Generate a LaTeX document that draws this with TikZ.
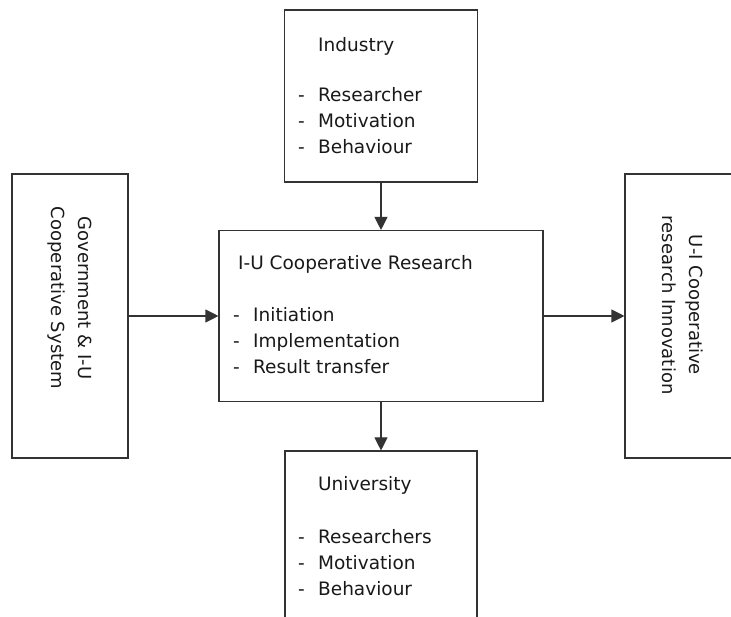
\documentclass[tikz,border=0pt]{standalone}
\usepackage{fontspec}
\setmainfont{DejaVu Sans}
\usetikzlibrary{arrows.meta}
\tikzset{
  box/.style={draw=black!80, line width=1.1pt, inner sep=0pt},
  txt/.style={anchor=base west, inner sep=0pt, text=black!90, font=\fontsize{18.5}{26}\selectfont},
  vtxt/.style={rotate=-90, align=center, inner sep=0pt, text=black!90, font=\fontsize{18}{27}\selectfont},
  arr/.style={-{Triangle[length=13pt,width=13pt]}, draw=black!80, line width=1.1pt}
}
\begin{document}
\begin{tikzpicture}[x=1pt, y=-1pt]
        \useasboundingbox (0,0) rectangle (731,617);
        \clip (0,0) rectangle (731,617);
        \fill[white] (0,0) rectangle (731,617);
        % boxes
        \node[box, minimum width=193pt, minimum height=172pt] (ind) at (381,96) {};
        \node[box, minimum width=324pt, minimum height=171pt] (cen) at (381,316) {};
        \node[box, minimum width=116pt, minimum height=284pt] (gov) at (70,316) {};
        \node[box, minimum width=135pt, minimum height=284pt] (inn) at (692.5,316) {};
        \node[box, minimum width=192pt, minimum height=189pt] (uni) at (381,545.5) {};
        % industry
        \node[txt] (ind-t) at (318,52) {Industry};
        \node[txt] (ind-1) at (298,102) {\makebox[20pt][l]{-}Researcher};
        \node[txt] (ind-2) at (298,128) {\makebox[20pt][l]{-}Motivation};
        \node[txt] (ind-3) at (298,154) {\makebox[20pt][l]{-}Behaviour};
        % cooperative research
        \node[txt] (cen-t) at (238,270) {I-U Cooperative Research};
        \node[txt] (cen-1) at (233,322) {\makebox[20pt][l]{-}Initiation};
        \node[txt] (cen-2) at (233,348) {\makebox[20pt][l]{-}Implementation};
        \node[txt] (cen-3) at (233,374) {\makebox[20pt][l]{-}Result transfer};
        % university
        \node[txt] (uni-t) at (318,490) {University};
        \node[txt] (uni-1) at (298,543) {\makebox[20pt][l]{-}Researchers};
        \node[txt] (uni-2) at (298,569) {\makebox[20pt][l]{-}Motivation};
        \node[txt] (uni-3) at (298,595) {\makebox[20pt][l]{-}Behaviour};
        % side boxes
        \node[vtxt] (gov-t) at (70,298) {Government \& I-U\\Cooperative System};
        \node[vtxt] (inn-t) at (683,305) {U-I Cooperative\\research Innovation};
        % arrows
        \draw[arr] (ind) -- (cen);
        \draw[arr] (cen) -- (uni);
        \draw[arr] (gov) -- (cen);
        \draw[arr] (cen) -- (inn);
    \end{tikzpicture}
\end{document}
